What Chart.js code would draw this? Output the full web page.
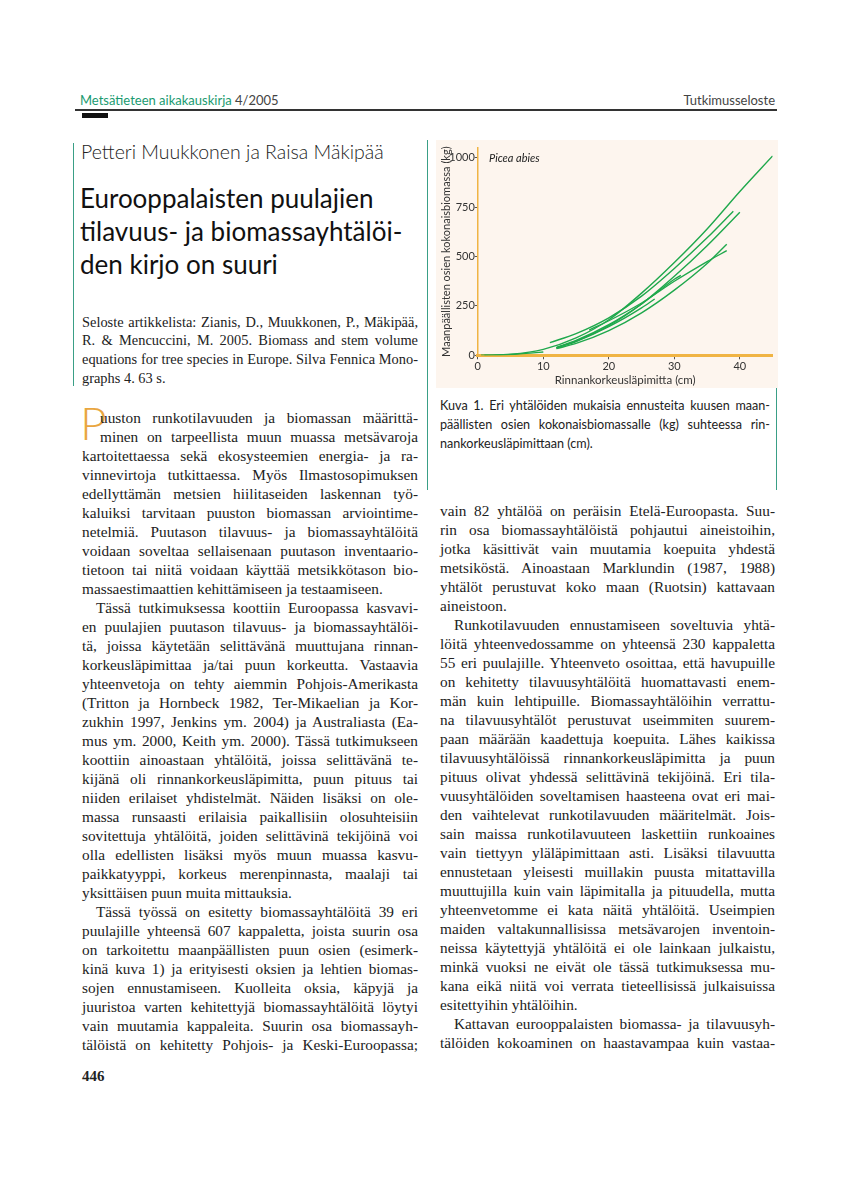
<!DOCTYPE html>
<html><head><meta charset="utf-8">
<script src="https://cdn.jsdelivr.net/npm/chart.js@4.4.1/dist/chart.umd.min.js"></script>
<style>
html,body{margin:0;padding:0;background:#fff;}
body{width:850px;height:1202px;position:relative;overflow:hidden;}
.abs{position:absolute;}
.sans{font-family:Lato,"Open Sans",sans-serif;}
.serif{font-family:"Liberation Serif","Times New Roman",serif;}
.col{position:absolute;}
.col div{height:19px;line-height:19px;white-space:nowrap;text-align:justify;text-align-last:justify;font-size:15.3px;color:#222;}
.col div.e{text-align-last:left;}
.col div.i{text-indent:14px;}
.col.cit div{font-size:14.4px;height:18.7px;line-height:18.7px;}
.cap div{height:19px;line-height:19px;white-space:nowrap;text-align:justify;text-align-last:justify;font-size:12.6px;color:#222;}
.cap div.e{text-align-last:left;}
</style></head>
<body>
<!-- header -->
<div class="abs sans" style="left:80px;top:92px;font-size:13px;color:#1a9a70;">Metsätieteen aikakauskirja <span style="color:#444">4/2005</span></div>
<div class="abs sans" style="right:75px;top:92px;font-size:13px;color:#444;">Tutkimusseloste</div>
<div class="abs" style="left:75px;top:109px;width:702px;height:1.5px;background:#333;"></div>
<div class="abs" style="left:82px;top:113px;width:26px;height:5px;background:#111;"></div>

<!-- left top block -->
<div class="abs" style="left:73px;top:143px;width:1px;height:243px;background:#3a9f86;"></div>
<div class="abs sans" style="left:81px;top:140px;font-size:19.5px;font-weight:300;color:#222;">Petteri Muukkonen ja Raisa Mäkipää</div>
<div class="abs sans" style="left:80px;top:182px;font-size:26px;line-height:33px;color:#111;">Eurooppalaisten puulajien<br>tilavuus- ja biomassayhtälöi-<br>den kirjo on suuri</div>

<div class="col cit serif" style="left:82px;top:312.5px;width:336px;">
<div>Seloste artikkelista: Zianis, D., Muukkonen, P., Mäkipää,</div>
<div>R. &amp; Mencuccini, M. 2005. Biomass and stem volume</div>
<div>equations for tree species in Europe. Silva Fennica Mono-</div>
<div class="e">graphs 4. 63 s.</div>
</div>

<!-- figure frame -->
<div class="abs" style="left:427px;top:140px;width:1px;height:350px;background:#3a9f86;"></div>
<div class="abs" style="left:776px;top:140px;width:1px;height:350px;background:#3a9f86;"></div>
<div class="abs" style="left:436px;top:140px;width:342px;height:248px;background:#fdf5ee;"></div>
<canvas id="c" class="abs" width="342" height="248" style="left:436px;top:140px;width:342px;height:248px;"></canvas>
<div class="abs sans" style="left:489px;top:151px;font-size:11px;font-style:italic;color:#222;">Picea abies</div>

<div class="cap sans" style="position:absolute;left:440px;top:396px;width:330px;">
<div>Kuva 1. Eri yhtälöiden mukaisia ennusteita kuusen maan-</div>
<div>päällisten osien kokonaisbiomassalle (kg) suhteessa rin-</div>
<div class="e">nankorkeusläpimittaan (cm).</div>
</div>

<!-- drop cap -->
<div class="abs sans" style="left:80px;top:400px;font-size:46px;line-height:46px;font-weight:300;color:#e9a640;">P</div>

<div class="col serif" style="left:82px;top:407.5px;width:336px;">
<div style="padding-left:18px">uuston runkotilavuuden ja biomassan määrittä-</div>
<div style="padding-left:18px">minen on tarpeellista muun muassa metsävaroja</div>
<div>kartoitettaessa sekä ekosysteemien energia- ja ra-</div>
<div>vinnevirtoja tutkittaessa. Myös Ilmastosopimuksen</div>
<div>edellyttämän metsien hiilitaseiden laskennan työ-</div>
<div>kaluiksi tarvitaan puuston biomassan arviointime-</div>
<div>netelmiä. Puutason tilavuus- ja biomassayhtälöitä</div>
<div>voidaan soveltaa sellaisenaan puutason inventaario-</div>
<div>tietoon tai niitä voidaan käyttää metsikkötason bio-</div>
<div class="e">massaestimaattien kehittämiseen ja testaamiseen.</div>
<div class="i">Tässä tutkimuksessa koottiin Euroopassa kasvavi-</div>
<div>en puulajien puutason tilavuus- ja biomassayhtälöi-</div>
<div>tä, joissa käytetään selittävänä muuttujana rinnan-</div>
<div>korkeusläpimittaa ja/tai puun korkeutta. Vastaavia</div>
<div>yhteenvetoja on tehty aiemmin Pohjois-Amerikasta</div>
<div>(Tritton ja Hornbeck 1982, Ter-Mikaelian ja Kor-</div>
<div>zukhin 1997, Jenkins ym. 2004) ja Australiasta (Ea-</div>
<div>mus ym. 2000, Keith ym. 2000). Tässä tutkimukseen</div>
<div>koottiin ainoastaan yhtälöitä, joissa selittävänä te-</div>
<div>kijänä oli rinnankorkeusläpimitta, puun pituus tai</div>
<div>niiden erilaiset yhdistelmät. Näiden lisäksi on ole-</div>
<div>massa runsaasti erilaisia paikallisiin olosuhteisiin</div>
<div>sovitettuja yhtälöitä, joiden selittävinä tekijöinä voi</div>
<div>olla edellisten lisäksi myös muun muassa kasvu-</div>
<div>paikkatyyppi, korkeus merenpinnasta, maalaji tai</div>
<div class="e">yksittäisen puun muita mittauksia.</div>
<div class="i">Tässä työssä on esitetty biomassayhtälöitä 39 eri</div>
<div>puulajille yhteensä 607 kappaletta, joista suurin osa</div>
<div>on tarkoitettu maanpäällisten puun osien (esimerk-</div>
<div>kinä kuva 1) ja erityisesti oksien ja lehtien biomas-</div>
<div>sojen ennustamiseen. Kuolleita oksia, käpyjä ja</div>
<div>juuristoa varten kehitettyjä biomassayhtälöitä löytyi</div>
<div>vain muutamia kappaleita. Suurin osa biomassayh-</div>
<div>tälöistä on kehitetty Pohjois- ja Keski-Euroopassa;</div>
</div>

<div class="col serif" style="left:440px;top:500.5px;width:335px;">
<div>vain 82 yhtälöä on peräisin Etelä-Euroopasta. Suu-</div>
<div>rin osa biomassayhtälöistä pohjautui aineistoihin,</div>
<div>jotka käsittivät vain muutamia koepuita yhdestä</div>
<div>metsiköstä. Ainoastaan Marklundin (1987, 1988)</div>
<div>yhtälöt perustuvat koko maan (Ruotsin) kattavaan</div>
<div class="e">aineistoon.</div>
<div class="i">Runkotilavuuden ennustamiseen soveltuvia yhtä-</div>
<div>löitä yhteenvedossamme on yhteensä 230 kappaletta</div>
<div>55 eri puulajille. Yhteenveto osoittaa, että havupuille</div>
<div>on kehitetty tilavuusyhtälöitä huomattavasti enem-</div>
<div>män kuin lehtipuille. Biomassayhtälöihin verrattu-</div>
<div>na tilavuusyhtälöt perustuvat useimmiten suurem-</div>
<div>paan määrään kaadettuja koepuita. Lähes kaikissa</div>
<div>tilavuusyhtälöissä rinnankorkeusläpimitta ja puun</div>
<div>pituus olivat yhdessä selittävinä tekijöinä. Eri tila-</div>
<div>vuusyhtälöiden soveltamisen haasteena ovat eri mai-</div>
<div>den vaihtelevat runkotilavuuden määritelmät. Jois-</div>
<div>sain maissa runkotilavuuteen laskettiin runkoaines</div>
<div>vain tiettyyn yläläpimittaan asti. Lisäksi tilavuutta</div>
<div>ennustetaan yleisesti muillakin puusta mitattavilla</div>
<div>muuttujilla kuin vain läpimitalla ja pituudella, mutta</div>
<div>yhteenvetomme ei kata näitä yhtälöitä. Useimpien</div>
<div>maiden valtakunnallisissa metsävarojen inventoin-</div>
<div>neissa käytettyjä yhtälöitä ei ole lainkaan julkaistu,</div>
<div>minkä vuoksi ne eivät ole tässä tutkimuksessa mu-</div>
<div>kana eikä niitä voi verrata tieteellisissä julkaisuissa</div>
<div class="e">esitettyihin yhtälöihin.</div>
<div class="i">Kattavan eurooppalaisten biomassa- ja tilavuusyh-</div>
<div>tälöiden kokoaminen on haastavampaa kuin vastaa-</div>
</div>

<div class="abs serif" style="left:82px;top:1068px;font-size:15px;font-weight:bold;color:#222;">446</div>

<script>
// Chart data (diameter in cm, above-ground biomass in kg)
const xTicks = [0, 10, 20, 30, 40];
const yTicks = [0, 250, 500, 750, 1000];
const xTitle = 'Rinnankorkeusläpimitta (cm)';
const yTitle = 'Maanpäällisten osien kokonaisbiomassa (kg)';

const eqA_d  = [1, 5, 10, 15, 20, 25, 30, 35, 40, 45];
const eqA_kg = [0, 5, 30, 88, 180, 315, 470, 640, 830, 1010];
const eqB_d  = [11, 15, 20, 25, 30, 35, 39];
const eqB_kg = [64, 110, 190, 300, 440, 595, 730];
const eqC_d  = [12, 15, 20, 25, 30, 35, 40];
const eqC_kg = [38, 72, 150, 260, 400, 555, 725];
const eqD_d  = [12, 15, 20, 25, 30, 35, 38];
const eqD_kg = [34, 60, 125, 215, 330, 465, 563];
const eqE_d  = [17, 20, 25, 30, 35, 38];
const eqE_kg = [128, 175, 265, 375, 475, 530];
const eqF_d  = [12, 15, 20, 25, 27];
const eqF_kg = [38, 70, 145, 240, 285];
const eqG_d  = [0.5, 2, 4, 6, 8, 10];
const eqG_kg = [0, 1, 3, 6, 11, 17];
const eqH_d  = [12, 15, 20, 25, 30, 31];
const eqH_kg = [40, 75, 155, 260, 385, 405];

const series = [
  [eqA_d, eqA_kg], [eqB_d, eqB_kg], [eqC_d, eqC_kg], [eqD_d, eqD_kg],
  [eqE_d, eqE_kg], [eqF_d, eqF_kg], [eqG_d, eqG_kg], [eqH_d, eqH_kg]
];

const green = '#1fa84c';
const orange = '#f0b444';
const datasets = series.map(([d, kg]) => ({
  data: d.map((v, i) => ({ x: v, y: kg[i] })),
  borderColor: green,
  borderWidth: 1.4,
  pointRadius: 0,
  fill: false,
  cubicInterpolationMode: 'monotone'
}));

const font = { family: 'Lato, "Open Sans", sans-serif', size: 11 };

new Chart(document.getElementById('c'), {
  type: 'line',
  data: { datasets },
  options: {
    responsive: false,
    animation: false,
    devicePixelRatio: 1,
    layout: { padding: { top: 8, right: 5.4, left: 0, bottom: 0 } },
    plugins: { legend: { display: false }, tooltip: { enabled: false } },
    scales: {
      x: {
        type: 'linear', min: 0, max: 45,
        afterBuildTicks: s => { s.ticks = xTicks.map(v => ({ value: v })); },
        afterFit: s => { s.height = 32.7; },
        ticks: { font, color: '#333', padding: 1, maxRotation: 0, callback: v => String(v) },
        grid: { drawOnChartArea: false, drawTicks: true, tickLength: 4, color: '#555' },
        border: { display: true, color: orange, width: 3 },
        title: { display: true, text: xTitle, font: { ...font, size: 11.5 }, color: '#333', padding: { top: 0, bottom: 1 } }
      },
      y: {
        type: 'linear', min: 0, max: 1050,
        afterBuildTicks: s => { s.ticks = yTicks.map(v => ({ value: v })); },
        afterFit: s => { s.width = 41.8; },
        ticks: { font, color: '#333', padding: 0, callback: v => String(v) },
        grid: { drawOnChartArea: false, drawTicks: true, tickLength: 3, color: '#555' },
        border: { display: true, color: orange, width: 1.5 },
        title: { display: true, text: yTitle, font, color: '#333', padding: { top: 4, bottom: 0 } }
      }
    }
  }
});
</script>
</body></html>
